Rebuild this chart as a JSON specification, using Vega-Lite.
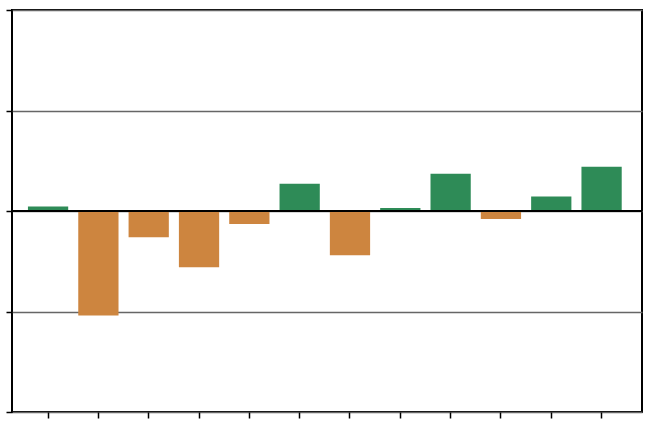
{
  "$schema": "https://vega.github.io/schema/vega-lite/v6.json",
  "width": 630,
  "height": 402,
  "autosize": {"type": "none"},
  "padding": {"left": 12, "top": 10, "right": 15, "bottom": 11},
  "background": "white",
  "config": {
    "view": {"stroke": "black", "strokeWidth": 2},
    "axis": {"labels": false, "title": null, "domain": false, "tickColor": "black", "tickWidth": 1.5, "tickSize": 6}
  },
  "data": {
    "values": [
      {"k": "a01", "v": 0.045},
      {"k": "a02", "v": -1.04},
      {"k": "a03", "v": -0.26},
      {"k": "a04", "v": -0.56},
      {"k": "a05", "v": -0.13},
      {"k": "a06", "v": 0.27},
      {"k": "a07", "v": -0.44},
      {"k": "a08", "v": 0.03},
      {"k": "a09", "v": 0.37},
      {"k": "a10", "v": -0.08},
      {"k": "a11", "v": 0.145},
      {"k": "a12", "v": 0.44}
    ]
  },
  "layer": [
    {
      "mark": {"type": "bar"},
      "encoding": {
        "x": {"field": "k", "type": "nominal", "sort": null,
              "scale": {"paddingInner": 0.2, "paddingOuter": 0.36, "align": 0.44},
              "axis": {"labels": false, "ticks": true, "grid": false}},
        "y": {"field": "v", "type": "quantitative",
              "scale": {"domain": [-2, 2], "nice": false, "zero": false},
              "axis": {"values": [-2, -1, 0, 1, 2], "grid": true, "gridColor": "#666666", "gridWidth": 1.5, "gridOpacity": 1}},
        "color": {
          "condition": {"test": "datum.v >= 0", "value": "#2e8b57"},
          "value": "#cd853f"
        }
      }
    },
    {
      "mark": {"type": "rule", "color": "black", "strokeWidth": 2},
      "encoding": {"y": {"datum": 0, "type": "quantitative"}}
    }
  ]
}
